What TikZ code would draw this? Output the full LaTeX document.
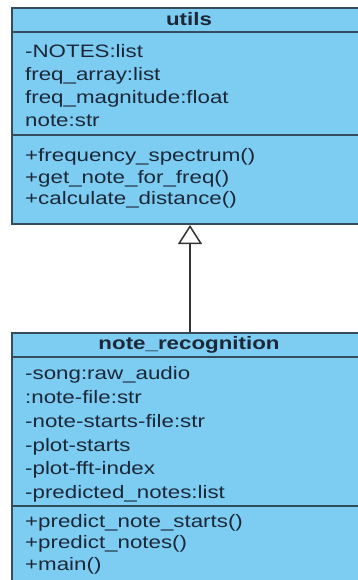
\documentclass[tikz,border=0pt]{standalone}
\usepackage{fontspec}
\setmainfont{Liberation Sans}[FakeStretch=1.24]
\usetikzlibrary{arrows.meta}
\definecolor{boxfill}{RGB}{125,204,242}
\definecolor{boxline}{RGB}{52,76,92}
\definecolor{txt}{RGB}{28,40,56}
\tikzset{
  classbox/.style={draw=boxline, line width=2pt, fill=boxfill, rectangle, inner sep=0pt, anchor=north west},
  sepline/.style={draw=boxline, line width=2pt},
  member/.style={anchor=mid west, inner sep=0pt, text=txt, font=\fontsize{18}{22}\selectfont},
  title/.style={anchor=mid, inner sep=0pt, text=txt, font=\fontsize{18}{22}\selectfont\bfseries},
  inherit/.style={draw=black!80, line width=1.5pt, -{Triangle[open, width=24pt, length=19pt, line width=1.5pt, fill=white]}}
}
\begin{document}
\begin{tikzpicture}[x=1pt,y=1pt]
\useasboundingbox (0,0) rectangle (358,-580);
\clip (0,0) rectangle (358,-580);
% utils
\node (utils) [classbox, minimum width=356pt, minimum height=216pt] at (11,-7) {};
\draw[sepline] (11,-32) -- (367,-32);
\draw[sepline] (11,-135) -- (367,-135);
\node (ut) [title] at (189,-23) {utils};
\node (u1) [member] at (25,-55) {-NOTES:list};
\node (u2) [member] at (25,-78) {freq\_array:list};
\node (u3) [member] at (25,-101) {freq\_magnitude:float};
\node (u4) [member] at (25,-124) {note:str};
\node (u5) [member] at (25,-159) {+frequency\_spectrum()};
\node (u6) [member] at (25,-181) {+get\_note\_for\_freq()};
\node (u7) [member] at (25,-202) {+calculate\_distance()};
% note_recognition
\node (nr) [classbox, minimum width=356pt, minimum height=252pt] at (11,-332) {};
\draw[sepline] (11,-357) -- (367,-357);
\draw[sepline] (11,-506) -- (367,-506);
\node (nt) [title] at (189,-347) {note\_recognition};
\node (n1) [member] at (25,-377) {-song:raw\_audio};
\node (n2) [member] at (25,-401) {:note-file:str};
\node (n3) [member] at (25,-425) {-note-starts-file:str};
\node (n4) [member] at (25,-449) {-plot-starts};
\node (n5) [member] at (25,-472) {-plot-fft-index};
\node (n6) [member] at (25,-496) {-predicted\_notes:list};
\node (n7) [member] at (25,-525) {+predict\_note\_starts()};
\node (n8) [member] at (25,-546) {+predict\_notes()};
\node (n9) [member] at (25,-568) {+main()};
% generalization
\draw[inherit] (nr.north) -- (utils.south);
\end{tikzpicture}
\end{document}
